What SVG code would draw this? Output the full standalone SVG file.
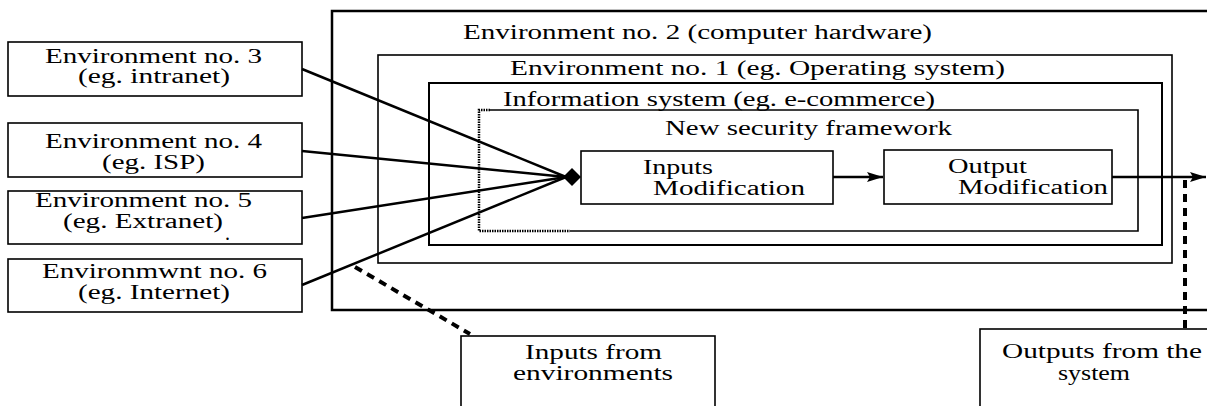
<svg xmlns="http://www.w3.org/2000/svg" width="1207" height="406" viewBox="0 0 1207 406">
  <defs>
    <style>
      .box { fill: #fff; stroke: #000; stroke-width: 1.6; }
      .frame { fill: none; stroke: #000; }
      .lbl { font-family: "Liberation Serif", "Times New Roman", serif; font-size: 20px; fill: #000; }
      .wire { fill: none; stroke: #000; stroke-width: 2.5; }
      .dash { fill: none; stroke: #000; stroke-width: 4; stroke-dasharray: 8 6; stroke-linecap: butt; }
    </style>
    <marker id="arrow" viewBox="0 0 16 10" refX="16" refY="5" markerWidth="16" markerHeight="10" markerUnits="userSpaceOnUse" orient="auto">
      <path d="M0 0 L16 5 L0 10 L3 5 Z" fill="#000"/>
    </marker>
  </defs>

  <rect width="1207" height="406" fill="#fff"/>

  <!-- Nested environments -->
  <g id="env2">
    <path class="frame" stroke-width="2.5" d="M1210 11 H332 V310 H1210"/>
    <text class="lbl" x="463" y="39" textLength="469" lengthAdjust="spacingAndGlyphs">Environment no. 2 (computer hardware)</text>
  </g>
  <g id="env1">
    <rect class="frame" stroke-width="1.6" x="378" y="55" width="794" height="208"/>
    <text class="lbl" x="510" y="75" textLength="495" lengthAdjust="spacingAndGlyphs">Environment no. 1 (eg. Operating system)</text>
  </g>
  <g id="info-system">
    <rect class="frame" stroke-width="2" x="429" y="83" width="733" height="162"/>
    <text class="lbl" x="503" y="106" textLength="432" lengthAdjust="spacingAndGlyphs">Information system (eg. e-commerce)</text>
  </g>
  <g id="framework">
    <path class="frame" stroke-width="1.6" d="M570 231 H1138 V110 H490"/>
    <path class="frame" stroke-width="2.5" stroke-dasharray="1.5 1" d="M490 110 H479 V231 H570"/>
    <text class="lbl" x="665" y="135" textLength="287" lengthAdjust="spacingAndGlyphs">New security framework</text>
  </g>

  <!-- Processing steps -->
  <g id="inputs-mod">
    <rect class="box" x="581" y="151" width="252" height="53"/>
    <text class="lbl" x="643" y="174" textLength="70" lengthAdjust="spacingAndGlyphs">Inputs</text>
    <text class="lbl" x="653" y="195" textLength="152" lengthAdjust="spacingAndGlyphs">Modification</text>
  </g>
  <g id="output-mod">
    <rect class="box" x="884" y="150" width="228" height="54"/>
    <text class="lbl" x="948" y="173" textLength="79" lengthAdjust="spacingAndGlyphs">Output</text>
    <text class="lbl" x="958" y="194" textLength="150" lengthAdjust="spacingAndGlyphs">Modification</text>
  </g>

  <!-- External environments -->
  <g id="env3">
    <rect class="box" x="8" y="42" width="294" height="54"/>
    <text class="lbl" x="45" y="63" textLength="217" lengthAdjust="spacingAndGlyphs">Environment no. 3</text>
    <text class="lbl" x="78" y="83" textLength="152" lengthAdjust="spacingAndGlyphs">(eg. intranet)</text>
  </g>
  <g id="env4">
    <rect class="box" x="8" y="123" width="294" height="54"/>
    <text class="lbl" x="45" y="148" textLength="217" lengthAdjust="spacingAndGlyphs">Environment no. 4</text>
    <text class="lbl" x="102" y="169" textLength="103" lengthAdjust="spacingAndGlyphs">(eg. ISP)</text>
  </g>
  <g id="env5">
    <rect class="box" x="8" y="191" width="294" height="53"/>
    <text class="lbl" x="35" y="207" textLength="217" lengthAdjust="spacingAndGlyphs">Environment no. 5</text>
    <text class="lbl" x="63" y="228" textLength="160" lengthAdjust="spacingAndGlyphs">(eg. Extranet)</text>
    <text class="lbl" x="225" y="240">.</text>
  </g>
  <g id="env6">
    <rect class="box" x="8" y="259" width="294" height="53"/>
    <text class="lbl" x="42" y="278" textLength="225" lengthAdjust="spacingAndGlyphs">Environmwnt no. 6</text>
    <text class="lbl" x="78" y="299" textLength="152" lengthAdjust="spacingAndGlyphs">(eg. Internet)</text>
  </g>

  <!-- Callouts -->
  <g id="inputs-from-env">
    <rect class="box" x="461" y="336" width="254" height="90"/>
    <text class="lbl" x="525" y="359" textLength="137" lengthAdjust="spacingAndGlyphs">Inputs from</text>
    <text class="lbl" x="513" y="380" textLength="160" lengthAdjust="spacingAndGlyphs">environments</text>
  </g>
  <g id="outputs-from-system">
    <rect class="box" x="980" y="329" width="240" height="100"/>
    <text class="lbl" x="1002" y="358" textLength="200" lengthAdjust="spacingAndGlyphs">Outputs from the</text>
    <text class="lbl" x="1058" y="380" textLength="72" lengthAdjust="spacingAndGlyphs">system</text>
  </g>

  <!-- Connectors -->
  <g id="connectors">
    <path class="wire" d="M302 69 L566 177"/>
    <path class="wire" d="M302 151 L566 177"/>
    <path class="wire" d="M302 218 L566 177"/>
    <path class="wire" d="M302 285 L566 177"/>
    <polygon points="563,177 572,168 581,177 572,186" fill="#000"/>
    <path class="wire" d="M833 177 H883" marker-end="url(#arrow)"/>
    <path class="wire" d="M1112 177 H1206" marker-end="url(#arrow)"/>
    <path class="dash" d="M1185 180 V329"/>
    <path class="dash" d="M355 267 L470 334"/>
  </g>
</svg>
